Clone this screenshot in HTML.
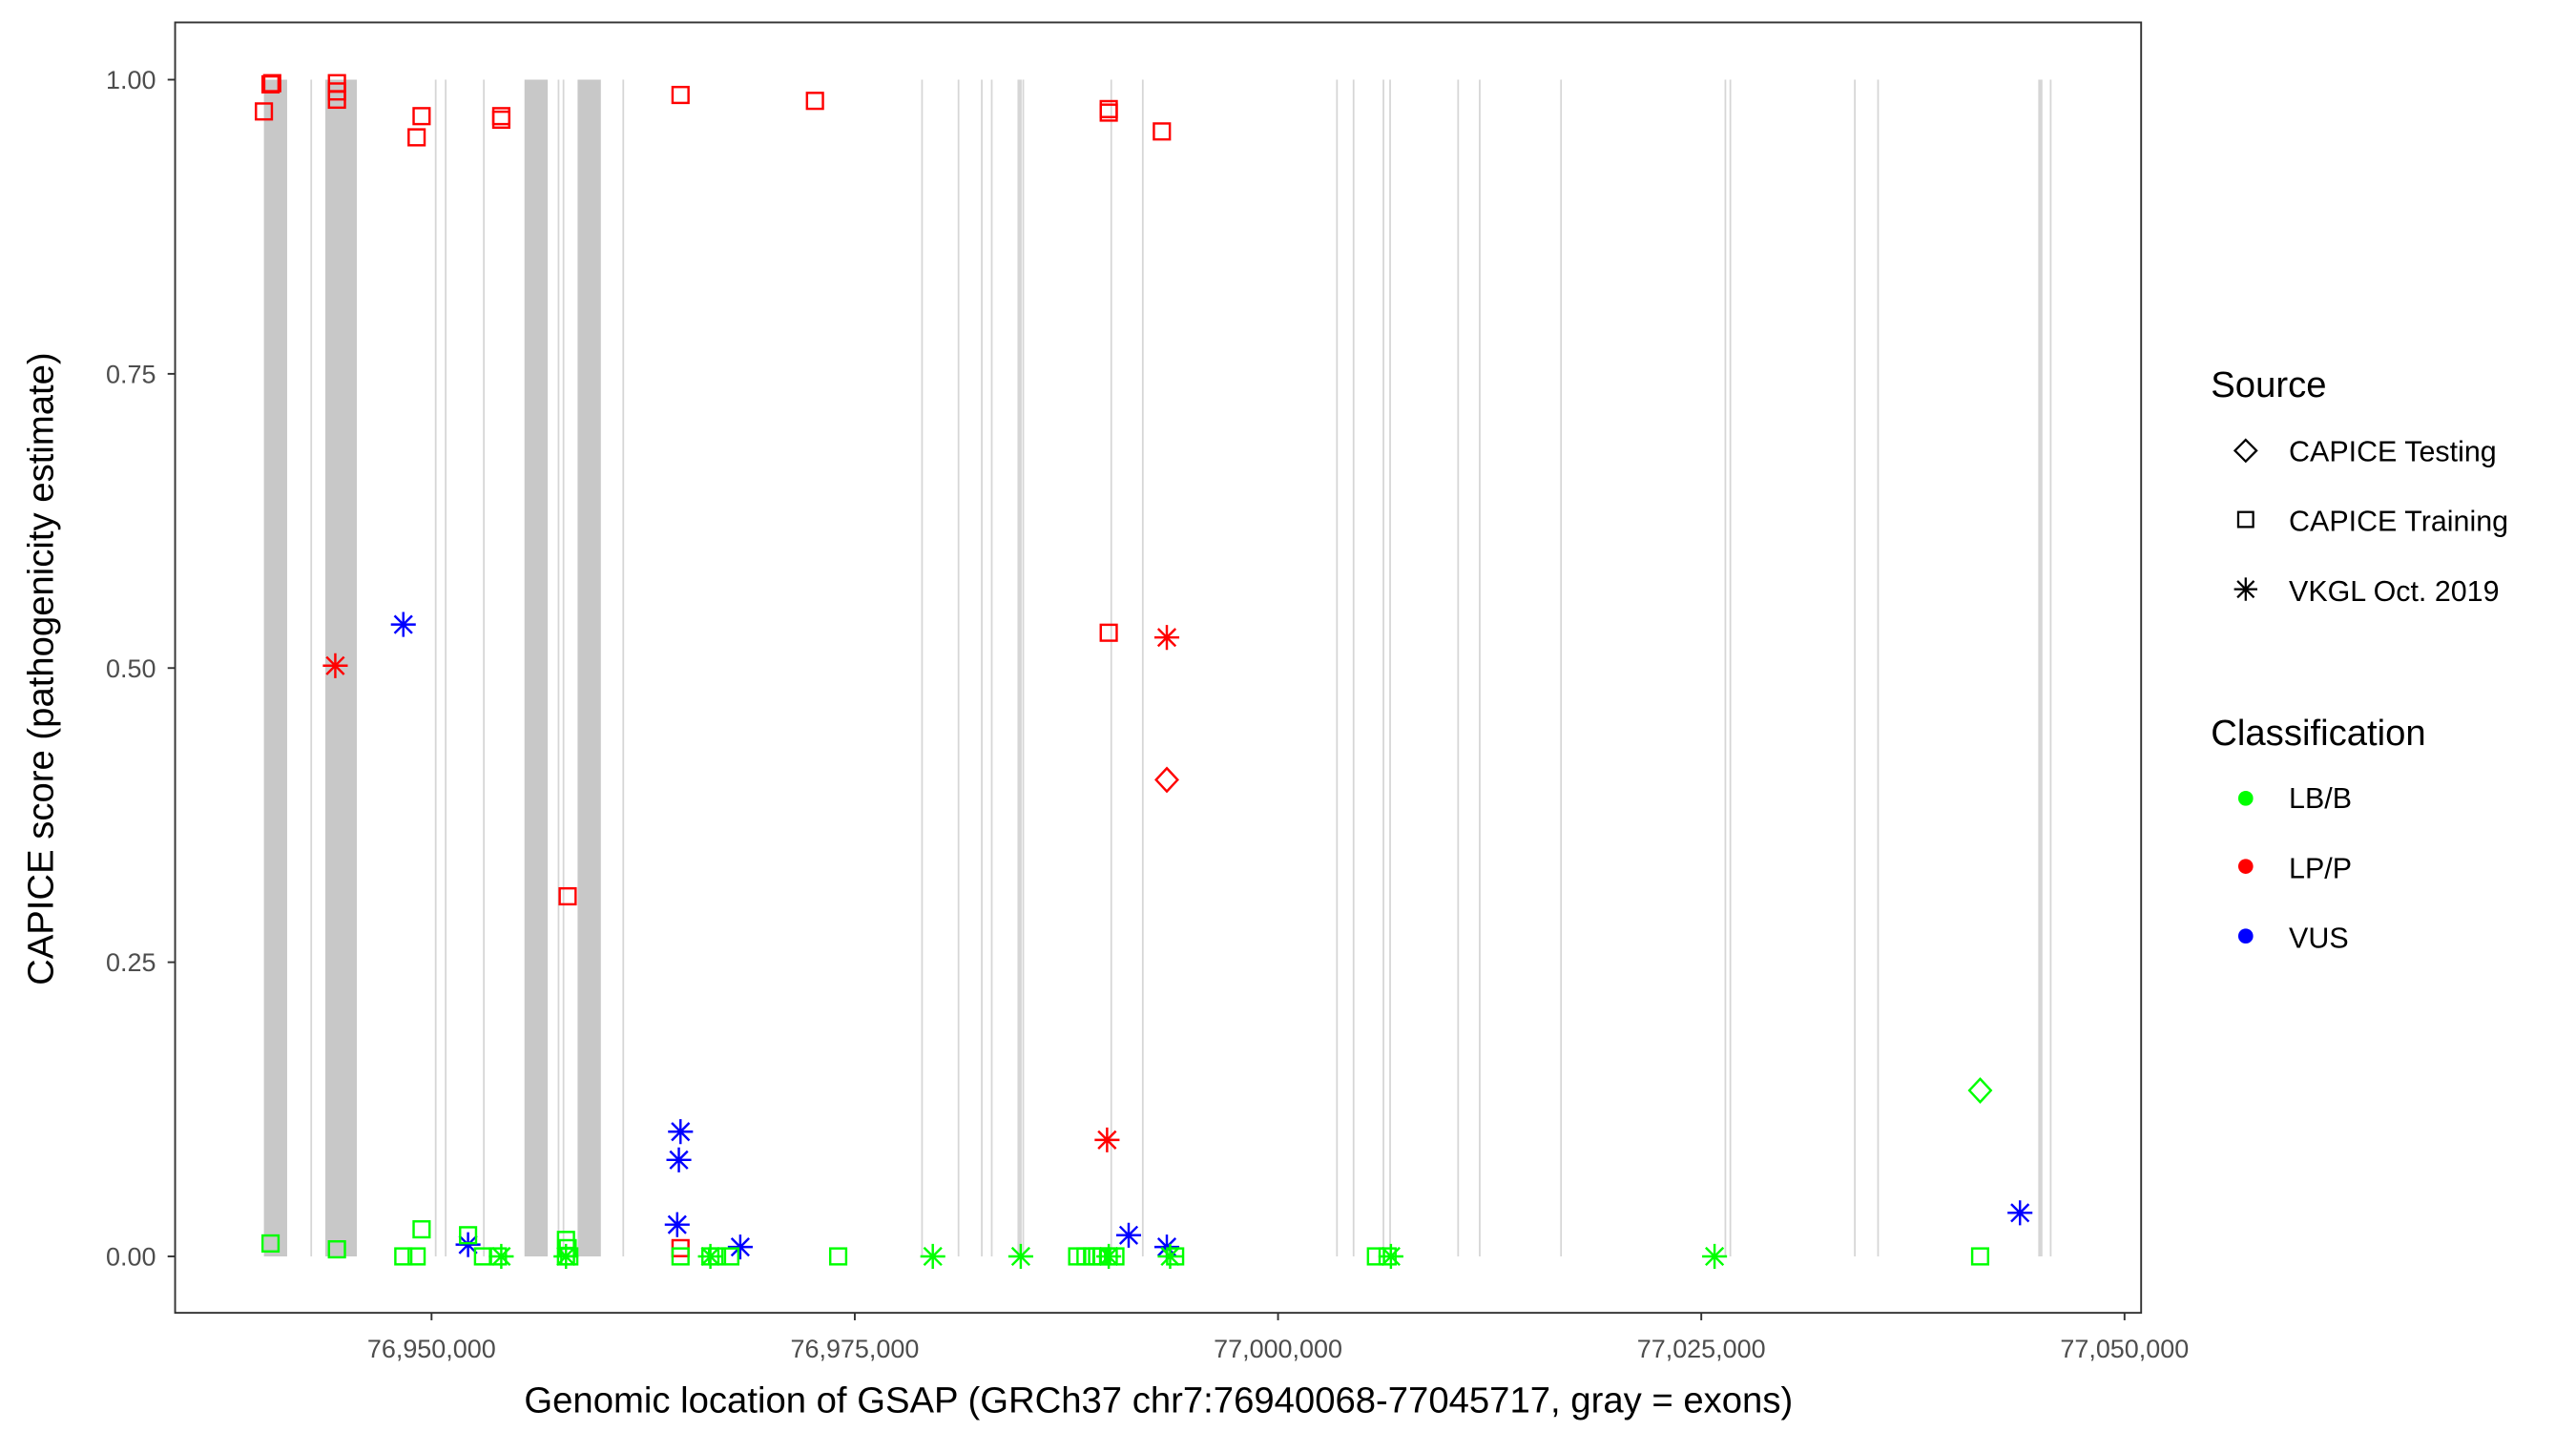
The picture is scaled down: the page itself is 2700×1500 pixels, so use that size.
<!DOCTYPE html>
<html><head><meta charset="utf-8"><style>
html,body{margin:0;padding:0;background:#fff;}
svg{display:block;font-family:"Liberation Sans",Arial,sans-serif;}
</style></head><body>
<svg id="chart" width="2700" height="1500" viewBox="0 0 1552 862.2" preserveAspectRatio="none" xmlns="http://www.w3.org/2000/svg">
<rect x="0" y="0" width="1552" height="862.2" fill="#fff"/>
<g id="exons"></g>
<g id="points"></g>
<rect x="105.5" y="13.5" width="1184.5" height="777.5" fill="none" stroke="#333" stroke-width="1.1"/>
<g id="yaxis"></g>
<g id="xaxis"></g>
<text x="0" y="0" transform="translate(32,403) rotate(-90)" text-anchor="middle" font-size="22" fill="#000">CAPICE score (pathogenicity estimate)</text>
<text x="698" y="851" text-anchor="middle" font-size="22" fill="#000">Genomic location of GSAP (GRCh37 chr7:76940068-77045717, gray = exons)</text>
<g>
<text x="1332" y="239" font-size="22">Source</text>
<g>
<path d="M1353,265 L1359.5,271.5 L1353,278 L1346.5,271.5 Z" fill="none" stroke="#000" stroke-width="1.3"/>
<text x="1379" y="278" font-size="17.5">CAPICE Testing</text></g>
<g>
<rect x="1348.5" y="308.5" width="9" height="9" fill="none" stroke="#000" stroke-width="1.3"/>
<text x="1379" y="320" font-size="17.5">CAPICE Training</text></g>
<g>
<path d="M1353,348 V362 M1346,355 H1360 M1348,350 L1358,360 M1358,350 L1348,360" stroke="#000" stroke-width="1.3"/>
<text x="1379" y="362" font-size="17.5">VKGL Oct. 2019</text></g>
<text x="1332" y="449" font-size="22">Classification</text>
<g><circle cx="1353" cy="481" r="4.5" fill="#00ff00"/><text x="1379" y="487" font-size="17.5">LB/B</text></g>
<g><circle cx="1353" cy="522" r="4.5" fill="#ff0000"/><text x="1379" y="529" font-size="17.5">LP/P</text></g>
<g><circle cx="1353" cy="564" r="4.5" fill="#0000ff"/><text x="1379" y="571" font-size="17.5">VUS</text></g>
</g>
</svg>
<script>
const exonStarts = [76940098,76943725,76955490,76958627,76942843,76950196,76950784,76953039,76957451,76957745,76961275,76978922,76981078,76982451,76983039,76984608,76984902,76990098,76991961,77003431,77004412,77006176,77006569,77010588,77011863,77016667,77026373,77026667,77034020,77035392,77044902,77045588];
const exonEnds = [76941471,76945588,76956863,76960000,76942943,76950296,76950884,76953139,76957551,76957845,76961375,76979022,76981178,76982551,76983139,76984858,76985002,76990198,76992061,77003531,77004512,77006276,77006669,77010688,77011963,77016767,77026473,77026767,77034120,77035492,77045152,77045688];

const positions = [
76940098,76940490,76940588,76944412,76944412,76944412,76949118,76949412,76954118,76954118,76964706,76972647,76990000,76990000,76993137,76990000,76958039,76964706,
76944314,76993431,76989902,
76993431,
76948333,76964706,76964608,76964510,76952157,76968235,76991176,76993431,77043824,
77041471,
76940490,76944412,76948333,76949118,76949412,76952157,76953039,76953922,76957941,76958039,76957941,76958137,76964706,76966471,76966863,76967647,76974020,76988137,76988627,76989020,76989314,76989608,76990000,76990392,76993922,77005784,77006471,77041471,
76954118,76957941,76966471,76979608,76984804,76990000,76993627,77006667,77025784];
const scores = [
0.973,0.996,0.997,0.997,0.990,0.983,0.951,0.969,0.969,0.966,0.987,0.982,0.975,0.972,0.956,0.530,0.306,0.007,
0.502,0.526,0.099,
0.405,
0.537,0.106,0.082,0.027,0.010,0.008,0.018,0.008,0.037,
0.141,
0.011,0.006,0,0,0.023,0.018,0,0,0.014,0.007,0,0,0,0,0,0,0,0,0,0,0,0,0,0,0,0,0,0,
0,0,0,0,0,0,0,0,0];
const sources = [
"train","train","train","train","train","train","train","train","train","train","train","train","train","train","train","train","train","train",
"vkgl","vkgl","vkgl",
"test",
"vkgl","vkgl","vkgl","vkgl","vkgl","vkgl","vkgl","vkgl","vkgl",
"test",
"train","train","train","train","train","train","train","train","train","train","train","train","train","train","train","train","train","train","train","train","train","train","train","train","train","train","train","train",
"vkgl","vkgl","vkgl","vkgl","vkgl","vkgl","vkgl","vkgl","vkgl"];
const classes = [
"LP","LP","LP","LP","LP","LP","LP","LP","LP","LP","LP","LP","LP","LP","LP","LP","LP","LP",
"LP","LP","LP",
"LP",
"VUS","VUS","VUS","VUS","VUS","VUS","VUS","VUS","VUS",
"LB",
"LB","LB","LB","LB","LB","LB","LB","LB","LB","LB","LB","LB","LB","LB","LB","LB","LB","LB","LB","LB","LB","LB","LB","LB","LB","LB","LB","LB",
"LB","LB","LB","LB","LB","LB","LB","LB","LB"];
const yTicks = [0, 0.25, 0.5, 0.75, 1.0];
const yTickLabels = ["0.00","0.25","0.50","0.75","1.00"];
const xTicks = [76950000, 76975000, 77000000, 77025000, 77050000];
const xTickLabels = ["76,950,000","76,975,000","77,000,000","77,025,000","77,050,000"];

const NS = "http://www.w3.org/2000/svg";
function xs(v){ return 260 + (v - 76950000) * 255 / 25000; }
function ys(v){ return 757 - v * 709; }
const colorOf = {LB:"#00ff00", LP:"#ff0000", VUS:"#0000ff"};
function mk(tag, attrs, parent){ const e=document.createElementNS(NS,tag); for(const k in attrs) e.setAttribute(k, attrs[k]); parent.appendChild(e); return e; }

const gEx = document.getElementById("exons");
for (let i=0;i<exonStarts.length;i++){
  const x0=xs(exonStarts[i]), x1=xs(exonEnds[i]);
  const wide = (x1-x0) > 3;
  const r = mk("rect",{x:x0,y:ys(1),width:Math.max(x1-x0,1),height:ys(0)-ys(1),fill: wide?"#c8c8c8":"#d6d6d6"},gEx);
  
  
}

const gP = document.getElementById("points");
for (let i=0;i<positions.length;i++){
  const cx=xs(positions[i]), cy=ys(scores[i]), c=colorOf[classes[i]];
  let el;
  if (sources[i]==="train"){
    el = mk("rect",{x:cx-4.8,y:cy-4.8,width:9.6,height:9.6,fill:"none",stroke:c,"stroke-width":1.4},gP);
  } else if (sources[i]==="test"){
    el = mk("path",{d:`M${cx},${cy-7} L${cx+6.5},${cy} L${cx},${cy+7} L${cx-6.5},${cy} Z`,fill:"none",stroke:c,"stroke-width":1.4},gP);
  } else {
    el = mk("path",{d:`M${cx},${cy-7.5} V${cy+7.5} M${cx-7.5},${cy} H${cx+7.5} M${cx-5.3},${cy-5.3} L${cx+5.3},${cy+5.3} M${cx+5.3},${cy-5.3} L${cx-5.3},${cy+5.3}`,stroke:c,"stroke-width":1.4},gP);
  }
  
  
}

const gY = document.getElementById("yaxis");
for (let i=0;i<yTicks.length;i++){
  const y=ys(yTicks[i]);
  const t=mk("line",{x1:101,x2:105.5,y1:y,y2:y,stroke:"#333","stroke-width":1.1},gY);
  
  
  const l=mk("text",{x:94,y:y+5.5,"text-anchor":"end","font-size":"15.5",fill:"#4d4d4d"},gY);
  l.textContent=yTickLabels[i];
  
  
}
const gX = document.getElementById("xaxis");
for (let i=0;i<xTicks.length;i++){
  const x=xs(xTicks[i]);
  const t=mk("line",{x1:x,x2:x,y1:791,y2:795.5,stroke:"#333","stroke-width":1.1},gX);
  
  
  const l=mk("text",{x:x,y:818,"text-anchor":"middle","font-size":"15.5",fill:"#4d4d4d"},gX);
  l.textContent=xTickLabels[i];
  
  
}
</script>
</body></html>
